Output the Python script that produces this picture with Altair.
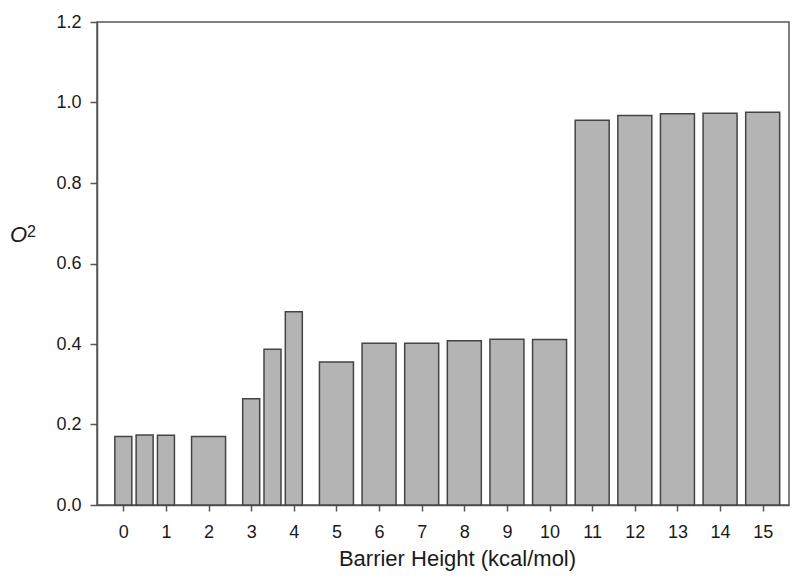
import altair as alt
import pandas as pd

# narrow bars (half-unit spacing)
narrow_x = [0, 0.5, 1, 3, 3.5, 4]
narrow_y = [0.170, 0.174, 0.173, 0.264, 0.387, 0.480]
# wide bars
wide_x = [2, 5, 6, 7, 8, 9, 10, 11, 12, 13, 14, 15]
wide_y = [0.170, 0.355, 0.402, 0.402, 0.408, 0.412, 0.411, 0.956, 0.968, 0.972, 0.973, 0.976]

x_ticks = list(range(0, 16))
y_ticks = [0.0, 0.2, 0.4, 0.6, 0.8, 1.0, 1.2]

FONT = "Liberation Sans"
FILL = "#b4b4b4"
EDGE = "#444444"
TXT = "#1a1a1a"

narrow_df = pd.DataFrame({"x": narrow_x, "y": narrow_y})
wide_df = pd.DataFrame({"x": wide_x, "y": wide_y})

xscale = alt.Scale(domain=[-0.5, 15.5], nice=False, zero=False)
yscale = alt.Scale(domain=[0, 1.2], nice=False)

xaxis = alt.Axis(values=x_ticks, title="Barrier Height (kcal/mol)", format="d",
                 grid=False, tickSize=6, labelPadding=12, titlePadding=7,
                 titleX=360, titleAlign="center",
                 labelFontSize=18, titleFontSize=22, labelFont=FONT, titleFont=FONT,
                 labelColor=TXT, titleColor=TXT, titleFontWeight="normal",
                 domainColor="#555", tickColor="#555", domainWidth=1.5, tickWidth=1.5)
yaxis = alt.Axis(values=y_ticks, title=None, format=".1f", grid=False,
                 tickSize=7, labelPadding=9, labelFontSize=18, labelFont=FONT,
                 labelColor=TXT, domainColor="#555", tickColor="#555",
                 domainWidth=1.5, tickWidth=1.5)

narrow = alt.Chart(narrow_df).mark_bar(width=17, fill=FILL, stroke=EDGE, strokeWidth=1.5).encode(
    x=alt.X("x:Q", scale=xscale, axis=xaxis),
    y=alt.Y("y:Q", scale=yscale, axis=yaxis),
)
wide = alt.Chart(wide_df).mark_bar(width=34, fill=FILL, stroke=EDGE, strokeWidth=1.5).encode(
    x=alt.X("x:Q", scale=xscale, axis=xaxis),
    y=alt.Y("y:Q", scale=yscale, axis=yaxis),
)

o_txt = alt.Chart(pd.DataFrame({"t": ["O"]})).mark_text(
    font=FONT, fontSize=22, fontStyle="italic", align="left", baseline="alphabetic", color=TXT
).encode(x=alt.value(-87), y=alt.value(219.5), text="t:N")
two_txt = alt.Chart(pd.DataFrame({"t": ["2"]})).mark_text(
    font=FONT, fontSize=16, align="left", baseline="alphabetic", color=TXT
).encode(x=alt.value(-70), y=alt.value(214.5), text="t:N")

chart = alt.layer(narrow, wide, o_txt, two_txt).properties(
    width=692, height=483, autosize="none",
    padding={"left": 89, "top": 14, "right": 3, "bottom": 69},
).configure_view(stroke="#555", strokeWidth=1.5)

chart.save("out.html", embed_options={"renderer": "svg", "actions": False})
